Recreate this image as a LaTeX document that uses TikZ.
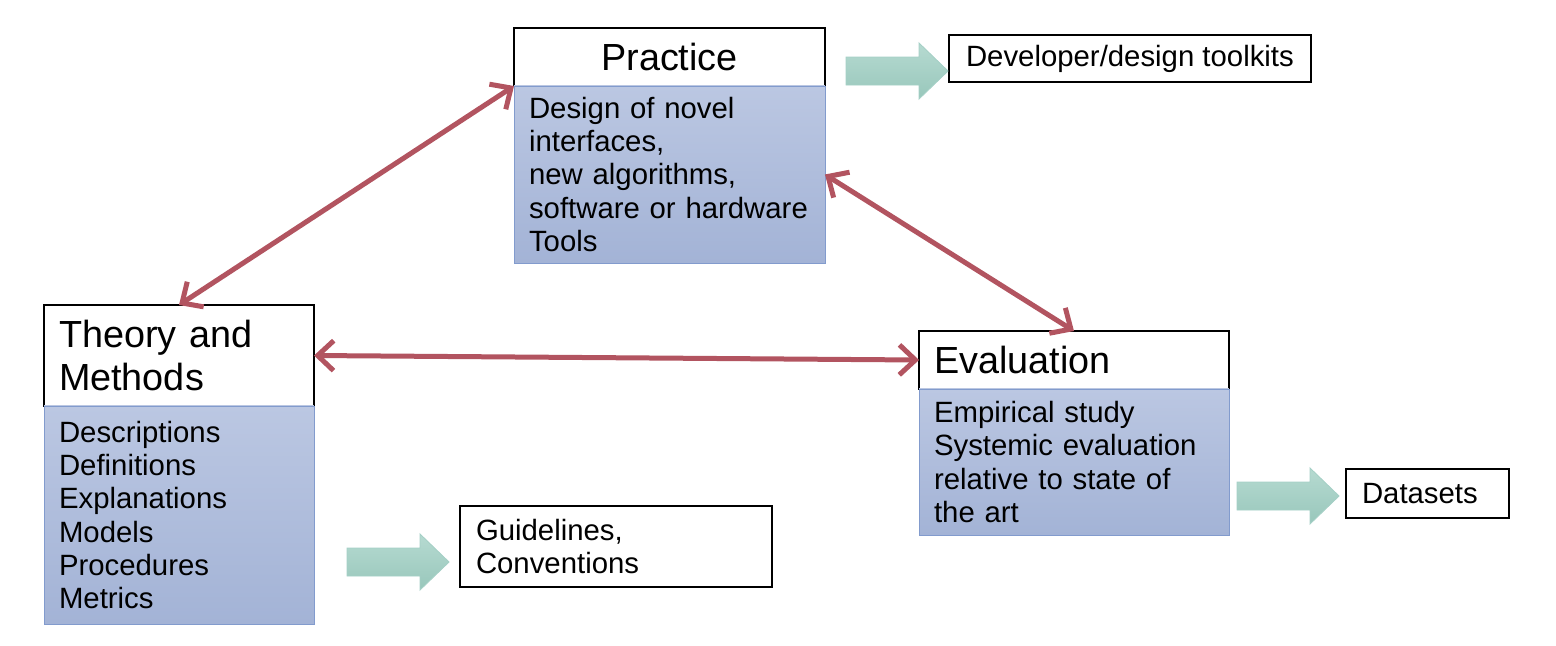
\documentclass[tikz,border=0pt]{standalone}
\usepackage{fontspec}
\setmainfont{Liberation Sans}
\usetikzlibrary{arrows.meta, positioning}

\definecolor{bodytop}{RGB}{187,199,226}
\definecolor{bodybot}{RGB}{163,179,214}
\definecolor{bodyedge}{RGB}{130,155,205}
\definecolor{linkred}{RGB}{178,84,96}
\definecolor{fattop}{RGB}{182,218,209}
\definecolor{fatbot}{RGB}{152,199,187}
\definecolor{fatedge}{RGB}{165,208,198}

\begin{document}
\begin{tikzpicture}[
    x=0.02cm, y=-0.02cm,
    every node/.style={outer sep=0pt, font=\fontsize{16.7}{19}\selectfont},
    head/.style={rectangle, draw=black, line width=1pt, fill=white, inner xsep=0.3cm,
                 inner ysep=0pt, align=left, font=\fontsize{21.5}{24.5}\selectfont},
    body/.style={rectangle, draw=bodyedge, line width=0.5pt, top color=bodytop,
                 bottom color=bodybot, inner xsep=0.3cm, inner ysep=0pt, align=left},
    output/.style={rectangle, draw=black, line width=0.9pt, fill=white, inner xsep=0.32cm,
                   inner ysep=0pt, align=left, anchor=north west},
    link/.style={{Straight Barb[length=0.32cm,width=0.6cm]}-{Straight Barb[length=0.32cm,width=0.6cm]},
                 line width=0.1cm, draw=linkred, line cap=round},
    fatarrow/.style={draw=fatedge, line width=0.5pt, top color=fattop, bottom color=fatbot},
]
\useasboundingbox (0,0) rectangle (1556,646);

% Practice
\node[head, text width=5.62cm, minimum height=1.16cm, align=center] (practice) at (669.5,57) {Practice};
\node[body, text width=5.62cm, minimum height=3.54cm, below=0pt of practice] (practiceBody)
    {Design of novel\\interfaces,\\new algorithms,\\software or hardware\\Tools};

% Theory and Methods
\node[head, text width=4.8cm, minimum height=2.02cm] (theory) at (179,355.5) {Theory and\\Methods};
\node[body, text width=4.8cm, minimum height=4.36cm, below=0pt of theory] (theoryBody)
    {Descriptions\\Definitions\\Explanations\\Models\\Procedures\\Metrics};

% Evaluation
\node[head, text width=5.6cm, minimum height=1.16cm] (evaluation) at (1074,360) {Evaluation};
\node[body, text width=5.6cm, minimum height=2.92cm, below=0pt of evaluation] (evaluationBody)
    {Empirical study\\Systemic evaluation\\relative to state of\\the art};

% Outputs
\node[output, minimum width=7.24cm, minimum height=0.94cm] (toolkits) at (949,35) {Developer/design toolkits};
\node[output, text width=5.6cm, minimum height=1.62cm] (guidelines) at (460,506) {Guidelines,\\Conventions};
\node[output, text width=2.62cm, minimum height=0.98cm] (datasets) at (1346,469) {Datasets};

% Fat arrows
\draw[fatarrow] (846,57) -- ++(73,0) -- ++(0,-14) -- ++(29,28) -- ++(-29,28) -- ++(0,-14) -- ++(-73,0) -- cycle;
\draw[fatarrow] (347,548) -- ++(73,0) -- ++(0,-14) -- ++(29,28) -- ++(-29,28) -- ++(0,-14) -- ++(-73,0) -- cycle;
\draw[fatarrow] (1237,482) -- ++(73,0) -- ++(0,-14) -- ++(29,28) -- ++(-29,28) -- ++(0,-14) -- ++(-73,0) -- cycle;

% Links
\draw[link] (practice.south west) -- (theory.north);
\draw[link] (practiceBody.east) -- (evaluation.north);
\draw[link] (theory.east) -- (evaluation.west);

\end{tikzpicture}
\end{document}
